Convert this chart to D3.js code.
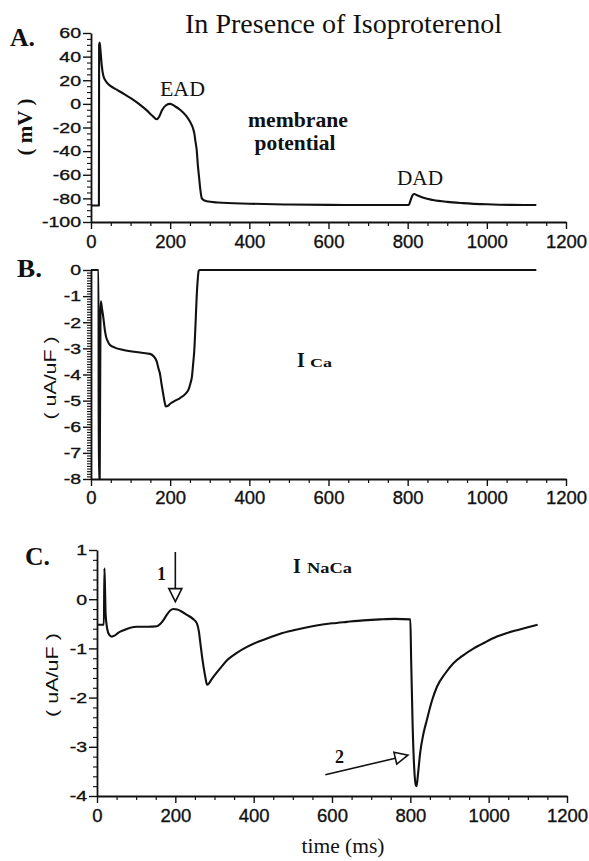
<!DOCTYPE html>
<html><head><meta charset="utf-8">
<script src="https://cdn.jsdelivr.net/npm/d3@7"></script>
<style>
html,body{margin:0;padding:0;background:#fff;}
svg{display:block;}
.tick text{font-family:"Liberation Sans",Arial,sans-serif;fill:#111;stroke:#111;stroke-width:0.35px;}
.serif{font-family:"Liberation Serif","Times New Roman",serif;fill:#111;}
.sans{font-family:"Liberation Sans",Arial,sans-serif;fill:#111;}
</style></head>
<body>
<script>
// ---------- data ----------
const xTicks = [0, 200, 400, 600, 800, 1000, 1200];
const yTicksA = [60, 40, 20, 0, -20, -40, -60, -80, -100];
const yTicksB = [0, -1, -2, -3, -4, -5, -6, -7, -8];
const yTicksC = [1, 0, -1, -2, -3, -4];

// Panel A: membrane potential (mV)
const timeA = [0,20,20.5,22,24,27,31,38,50,65,85,107,125,141,155,166,172,180,190,200,212,225,240,250,257,261,264,267,270,273,276,280,285,292,320,400,500,600,700,800,803,808,812,816,825,840,864,900,939,1000,1060,1125];
const vmA   = [-86,-86,50,52,45,33,24,19,15,12,8,3.4,-1,-5.5,-10,-13,-11,-5,-1,0,-2,-5,-10,-15,-20,-25,-32,-39,-52,-62,-72,-80,-81.5,-82.5,-83.5,-84.5,-85.2,-85.5,-85.6,-85.6,-85.4,-81,-77.5,-76.3,-77.5,-79.5,-81.4,-83,-84,-85,-85.5,-85.6];

// Panel B: I_Ca (uA/uF)
const timeB = [0,19,19.5,22,24,25,28,31,35,38,43,48,60,82,124,149,158,166,171,174,178,182,186,189,194,200,213,225,238,246,251,255,258,261,264,267,270,272,275,1125];
const iCaB  = [0,0,-8,-8,-1.6,-1.2,-1.5,-1.8,-2.3,-2.55,-2.75,-2.87,-2.97,-3.06,-3.16,-3.21,-3.3,-3.5,-3.8,-3.95,-4.35,-4.71,-5.05,-5.22,-5.2,-5.12,-5.0,-4.9,-4.75,-4.59,-4.35,-4.08,-3.6,-3.06,-2.1,-1.02,-0.3,-0.03,0,0];

// Panel C: I_NaCa (uA/uF)
const timeC = [0,17.5,19,20.5,22,26,31,38,45,55,68,85,102,130,153,162,170,178,187,195,205,218,230,245,255,260,264,268,272,277,281,285,290,298,315,332,355,383,410,434,468,502,553,600,638,680,723,760,800,802,806,810,814,816,819,825,833,842,855,868,888,910,935,962,990,1021,1045,1072,1100,1125];
const iNaCaC = [-0.52,-0.52,0.63,0.2,-0.3,-0.6,-0.72,-0.76,-0.74,-0.68,-0.63,-0.58,-0.56,-0.56,-0.55,-0.5,-0.42,-0.32,-0.23,-0.2,-0.21,-0.26,-0.32,-0.4,-0.49,-0.65,-0.9,-1.15,-1.37,-1.6,-1.74,-1.72,-1.66,-1.57,-1.4,-1.24,-1.1,-0.97,-0.87,-0.8,-0.7,-0.63,-0.545,-0.49,-0.46,-0.43,-0.41,-0.4,-0.41,-1.2,-2.6,-3.45,-3.78,-3.8,-3.6,-3.13,-2.75,-2.46,-2.07,-1.78,-1.52,-1.3,-1.14,-1.0,-0.88,-0.76,-0.69,-0.63,-0.57,-0.52];

// ---------- drawing ----------
const W = 589, H = 861;
const svg = d3.select("body").append("svg").attr("width", W).attr("height", H);
const ink = "#111";

function minorRange(lo, hi, step){
  const out=[]; const n=Math.round((hi-lo)/step);
  for(let i=0;i<=n;i++){ out.push(+(lo+i*step).toFixed(4)); }
  return out;
}

function panel(cfg){
  const x = d3.scaleLinear().domain([0,1200]).range([cfg.x0, cfg.x1]);
  const y = d3.scaleLinear().domain(cfg.yDomain).range([cfg.yBottom, cfg.yTop]);
  const g = svg.append("g");

  // minor ticks x
  const minX = minorRange(0,1200,50).filter(v=>v%200!==0);
  g.append("g").attr("transform",`translate(0,${cfg.yBottom})`)
    .call(d3.axisBottom(x).tickValues(minX).tickSize(4).tickFormat("").tickSizeOuter(0))
    .call(a=>a.select(".domain").remove())
    .selectAll("line").attr("stroke",ink).attr("stroke-width",1.2);
  // major x
  const ax = g.append("g").attr("transform",`translate(0,${cfg.yBottom})`)
    .call(d3.axisBottom(x).tickValues(xTicks).tickSize(7).tickPadding(cfg.xPad).tickSizeOuter(0).tickFormat(d3.format("d")));
  ax.select(".domain").attr("stroke",ink).attr("stroke-width",1.8);
  ax.selectAll("line").attr("stroke",ink).attr("stroke-width",1.4);
  ax.selectAll("text").style("font-size","18.5px");

  // minor y
  const minY = minorRange(cfg.yDomain[0], cfg.yDomain[1], cfg.yMinor)
     .filter(v=>Math.abs(v/cfg.yMajor - Math.round(v/cfg.yMajor))>1e-6);
  g.append("g").attr("transform",`translate(${cfg.x0},0)`)
    .call(d3.axisLeft(y).tickValues(minY).tickSize(4).tickFormat("").tickSizeOuter(0))
    .call(a=>a.select(".domain").remove())
    .selectAll("line").attr("stroke",ink).attr("stroke-width",1.1);
  const ay = g.append("g").attr("transform",`translate(${cfg.x0},0)`)
    .call(d3.axisLeft(y).tickValues(cfg.yTicks).tickSize(8).tickPadding(2).tickSizeOuter(0).tickFormat(d3.format("d")));
  ay.select(".domain").attr("stroke",ink).attr("stroke-width",1.8);
  ay.selectAll("line").attr("stroke",ink).attr("stroke-width",1.4);
  ay.selectAll("text").text(d=>String(d)).style("font-size","15px")
    .each(function(){ const w=this.getComputedTextLength();
      d3.select(this).attr("textLength", w*1.3).attr("lengthAdjust","spacingAndGlyphs"); });

  // trace
  const pts = cfg.t.map((t,i)=>[t,cfg.v[i]]);
  const line = d3.line().x(d=>x(d[0])).y(d=>y(d[1])).curve(d3.curveMonotoneX);
  g.append("path").datum(pts).attr("d",line).attr("fill","none")
    .attr("stroke",ink).attr("stroke-width",2.1).attr("stroke-linejoin","round");
  return {x,y,g};
}

const A = panel({x0:91,x1:566,yTop:33,yBottom:222,yDomain:[-100,60],yTicks:yTicksA,yMajor:20,yMinor:5,xPad:6,t:timeA,v:vmA});
const B = panel({x0:91,x1:566,yTop:270,yBottom:479,yDomain:[-8,0],yTicks:yTicksB,yMajor:1,yMinor:0.1,xPad:5,t:timeB,v:iCaB});
const C = panel({x0:97,x1:567,yTop:550,yBottom:796,yDomain:[-4,1],yTicks:yTicksC,yMajor:1,yMinor:0.2,xPad:6,t:timeC,v:iNaCaC});

function txt(x,y,s,cls,size,weight,anchor,len){
  const t = svg.append("text").attr("x",x).attr("y",y).attr("class",cls)
    .style("font-size",size+"px").style("font-weight",weight||"normal")
    .attr("text-anchor",anchor||"start").text(s);
  if(len) t.attr("textLength",len).attr("lengthAdjust","spacingAndGlyphs");
  return t;
}

// Title & panel letters
txt(185,33,"In Presence of Isoproterenol","serif",27,"normal","start",317);
txt(10,46,"A.","serif",25,"bold","start",25);
txt(17,277,"B.","serif",25,"bold","start",25);
txt(25,565,"C.","serif",25,"bold","start",25);

// Y labels (rotated)
function ylab(cx,cy,s,cls,size,weight,len){
  const t = svg.append("text").attr("class",cls)
    .attr("transform",`translate(${cx},${cy}) rotate(-90)`)
    .attr("text-anchor","middle").attr("dy","0.35em")
    .style("font-size",size+"px").style("font-weight",weight).text(s);
  if(len) t.attr("textLength",len).attr("lengthAdjust","spacingAndGlyphs");
}
ylab(25,127,"( mV )","serif",20,"bold",57);
ylab(50,378,"( uA/uF )","sans",17,"normal",83);
ylab(52,675,"( uA/uF )","sans",17,"normal",84);

// Panel A annotations
txt(160,96,"EAD","serif",21,"normal","start",45);
txt(298,127,"membrane","serif",21,"bold","middle",100);
txt(295,150,"potential","serif",21,"bold","middle",81);
txt(397,185,"DAD","serif",21,"normal","start",46);

// Panel B label
txt(297,367,"I","serif",20,"bold","start");
txt(310,367,"Ca","serif",13,"bold","start",22);

// Panel C labels
txt(293,573,"I","serif",20,"bold","start");
txt(307,573,"NaCa","serif",14,"bold","start",45);

// arrows (open triangle heads)
function arrow(x1,y1,x2,y2,headLen,headHalf){
  const dx=x2-x1, dy=y2-y1, L=Math.hypot(dx,dy), ux=dx/L, uy=dy/L;
  const bx=x2-ux*headLen, by=y2-uy*headLen;
  svg.append("line").attr("x1",x1).attr("y1",y1).attr("x2",bx).attr("y2",by)
    .attr("stroke",ink).attr("stroke-width",1.6);
  const px=-uy, py=ux;
  svg.append("path").attr("d",`M${x2},${y2}L${bx+px*headHalf},${by+py*headHalf}L${bx-px*headHalf},${by-py*headHalf}Z`)
    .attr("fill","#fff").attr("stroke",ink).attr("stroke-width",1.6).attr("stroke-linejoin","miter");
}
arrow(C.x(200),C.y(0.96),C.x(200),C.y(-0.05),13,6.5);
txt(157,580,"1","serif",18,"bold","start");
arrow(C.x(583),C.y(-3.57),C.x(794),C.y(-3.17),13,6);
txt(335,763,"2","serif",18,"bold","start");

// x label
txt(343,853,"time (ms)","serif",20,"normal","middle",83);
</script>
</body></html>
